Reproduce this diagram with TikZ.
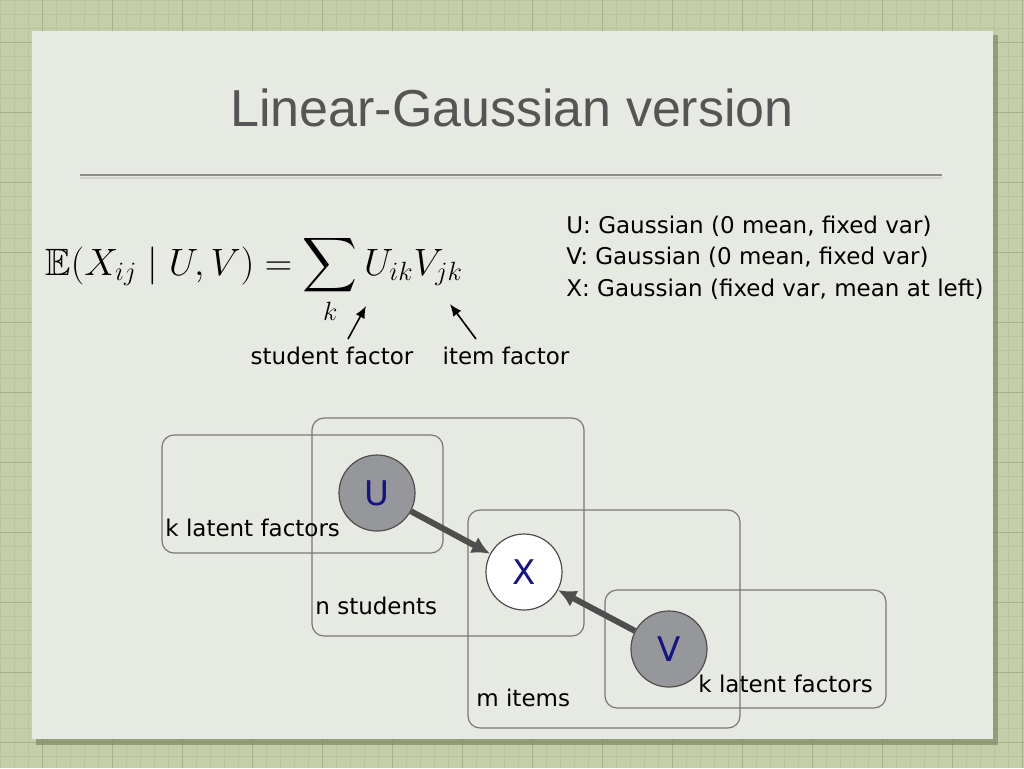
\documentclass[tikz,border=0pt]{standalone}
\usepackage{amsmath,amssymb}
\usepackage{graphicx}
\usepackage{fontspec}
\setmainfont{Liberation Sans}
\newfontfamily\bodyfont{DejaVu Sans}
\usepackage{xcolor}
\usetikzlibrary{arrows.meta}

\definecolor{gridbg}{RGB}{198,205,170}
\definecolor{gridfine}{RGB}{186,194,158}
\definecolor{gridbold}{RGB}{168,176,138}
\definecolor{slidebg}{RGB}{231,233,227}
\definecolor{shadowgreen}{RGB}{118,126,96}
\definecolor{titlegray}{RGB}{85,85,85}
\definecolor{rulegray}{RGB}{140,140,138}
\definecolor{nodegray}{RGB}{150,151,155}
\definecolor{plategray}{RGB}{120,120,120}
\definecolor{letterblue}{RGB}{20,20,135}
\definecolor{edgegray}{RGB}{78,78,78}

\tikzset{
  plate/.style={draw=plategray, line width=0.6pt, rounded corners=6pt},
  latent/.style={circle, draw=edgegray, line width=0.6pt, fill=nodegray, minimum size=38pt,
                 inner sep=0pt, text=letterblue, font=\bodyfont\fontsize{17}{20}\selectfont},
  observed/.style={latent, fill=white},
  edge/.style={draw=edgegray, line width=3pt, -{Latex[length=9pt,width=9pt]}},
  txt/.style={font=\bodyfont\fontsize{11.5}{13}\selectfont, inner sep=0pt}
}

\begin{document}
\begin{tikzpicture}[x=0.5pt, y=-0.5pt]
  \useasboundingbox (0,0) rectangle (1024,768);
  % background grid
  \fill[gridbg] (0,0) rectangle (1024,768);
  \foreach \g in {0,14,...,1024} {
    \draw[gridfine, line width=0.4pt] (\g,0) -- (\g,768);
    \draw[gridfine, line width=0.4pt] (0,\g) -- (1024,\g);
  }
  \foreach \g in {42,112,...,1024} {
    \draw[gridbold, line width=0.5pt] (\g,0) -- (\g,768);
    \draw[gridbold, line width=0.5pt] (0,\g) -- (1024,\g);
  }
  % slide
  \fill[shadowgreen, opacity=0.6] (36,35) rectangle (998,745);
  \fill[slidebg] (32,31) rectangle (993,739);

  % title
  \node[font=\fontsize{26}{30}\selectfont, text=titlegray] (title) at (512,108) {Linear-Gaussian version};
  \draw[rulegray, line width=1.2pt] (80,175) -- (942,175);
  \draw[rulegray!40, line width=0.8pt] (80,178) -- (942,178);

  % formula
  \node[anchor=base west, inner sep=0pt, font=\fontsize{20.74}{24}\selectfont] (formula) at (45,275)
    {\scalebox{0.918}{$\displaystyle \mathbb{E}(X_{ij} \mid U,V) = \sum_k U_{ik} V_{jk}$}};
  \node[txt, anchor=base] (sfac) at (332,364) {student factor};
  \node[txt, anchor=base] (ifac) at (506,364) {item factor};
  \coordinate (sftip) at (366,306);
  \coordinate (iftip) at (450,304);
  \draw[-{Latex[length=6pt,width=5pt]}, line width=0.8pt] (348,339) -- (sftip);
  \draw[-{Latex[length=6pt,width=5pt]}, line width=0.8pt] (476,339) -- (iftip);

  % distributions
  \node[txt, anchor=base west] (distu) at (566,233) {U: Gaussian (0 mean, fixed var)};
  \node[txt, anchor=base west] (distv) at (566,264) {V: Gaussian (0 mean, fixed var)};
  \node[txt, anchor=base west] (distx) at (566,296) {X: Gaussian (fixed var, mean at left)};

  % plates
  \draw[plate] (162,435) rectangle (443,553);
  \draw[plate] (312,418) rectangle (584,636);
  \draw[plate] (468,510) rectangle (740,728);
  \draw[plate] (605,590) rectangle (886,708);

  \node[latent] (U) at (377,493) {U};
  \node[observed] (X) at (524,572) {X};
  \node[latent] (V) at (669,649) {V};
  \draw[edge] (U) -- (X);
  \draw[edge] (V) -- (X);

  \node[txt, anchor=west] (ku) at (165,528) {k latent factors};
  \node[txt, anchor=west] (ns) at (315,606) {n students};
  \node[txt, anchor=west] (mi) at (476,698) {m items};
  \node[txt, anchor=west] (kv) at (698,684) {k latent factors};
\end{tikzpicture}
\end{document}
